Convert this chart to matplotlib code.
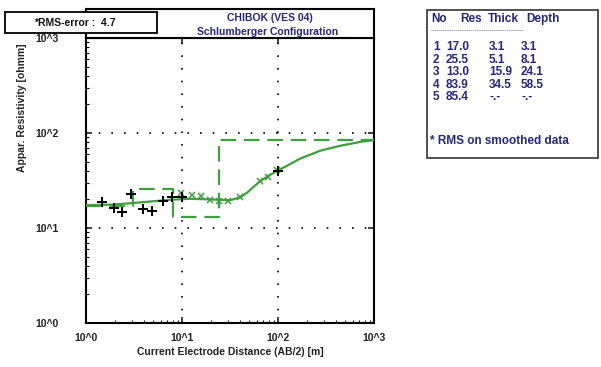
import numpy as np
import matplotlib
matplotlib.use("Agg")
import matplotlib.pyplot as plt
import matplotlib.ticker as ticker
from matplotlib.patches import Rectangle

FONT = "Liberation Sans"
NAVY = "#26267a"
GREEN = "#3f9f3f"

# field readings (AB/2 in m, apparent resistivity in ohmm)
field_ab2 = [1.47, 1.96, 2.37, 2.94, 3.92, 4.87, 6.34, 7.87, 10.0, 100.0]
field_rho = [18.7, 16.2, 14.7, 22.6, 15.8, 15.0, 19.1, 21.0, 21.0, 40.2]

# smoothed readings
smooth_ab2 = [9.8, 12.7, 15.8, 19.6, 24.3, 30.1, 40.2, 64.9, 78.7, 97.7]
smooth_rho = [23.2, 22.1, 21.5, 19.6, 19.1, 19.1, 21.0, 31.6, 34.7, 41.0]

# model response
curve_ab2 = [1.0, 1.78, 2.87, 4.64, 7.5, 12.1, 19.6, 31.6, 40.2, 47.5, 64.9,
             80.0, 100.0, 130.0, 169.0, 274.0, 442.0, 715.0, 1000.0]
curve_rho = [17.4, 17.6, 18.2, 19.0, 19.8, 20.3, 20.0, 19.6, 21.0, 23.5, 31.0,
             35.6, 40.2, 46.4, 53.6, 65.0, 73.3, 80.5, 84.5]

# layered model
layer_no = [1, 2, 3, 4, 5]
layer_res = [17.0, 25.5, 13.0, 83.9, 85.4]
layer_thick = [3.1, 5.1, 15.9, 34.5, None]
layer_depth = [3.1, 8.1, 24.1, 58.5, None]
rms_error = 4.7

W, H = 601, 367
def fx(px):
    return px / W
def fy(py):
    return 1 - py / H

fig = plt.figure(figsize=(W / 100, H / 100), dpi=100)
fig.patch.set_facecolor("white")

ax = fig.add_axes([fx(86), fy(323), (374 - 86) / W, (323 - 38) / H])
ax.set_xscale("log")
ax.set_yscale("log")
ax.set_xlim(1, 1000)
ax.set_ylim(1, 1000)

# step model from the table
edges = [1.0] + [d for d in layer_depth if d is not None] + [1000.0]
ax.step(edges, layer_res + [layer_res[-1]], where="post", color=GREEN,
        lw=1.6, ls=(0, (7, 3.5)), zorder=3)
ax.plot(curve_ab2, curve_rho, color=GREEN, lw=1.6, zorder=4)
ax.plot(smooth_ab2, smooth_rho, ls="none", marker="x", ms=4.5, mew=1.1,
        color=GREEN, zorder=5)
ax.plot(field_ab2, field_rho, ls="none", marker="+", ms=7, mew=1.4,
        color="black", zorder=6)

ax.grid(which="major", color="black", lw=1.2, ls=(0, (1, 6.6)))
dec = [1, 10, 100, 1000]
labels = ["10^0", "10^1", "10^2", "10^3"]
ax.xaxis.set_major_locator(ticker.FixedLocator(dec))
ax.yaxis.set_major_locator(ticker.FixedLocator(dec))
ax.xaxis.set_major_formatter(ticker.FixedFormatter(labels))
ax.yaxis.set_major_formatter(ticker.FixedFormatter(labels))
ax.xaxis.set_minor_locator(ticker.LogLocator(subs=np.arange(2, 10)))
ax.yaxis.set_minor_locator(ticker.LogLocator(subs=np.arange(2, 10)))
ax.xaxis.set_minor_formatter(ticker.NullFormatter())
ax.yaxis.set_minor_formatter(ticker.NullFormatter())
ax.tick_params(which="major", direction="in", length=4, width=1.2,
               top=True, right=True, labelsize=7.5, colors="#222222")
ax.tick_params(which="minor", direction="in", length=2, width=0.8,
               top=False, right=False)
ax.tick_params(axis="y", pad=20)
ax.tick_params(axis="x", pad=7)
for lab in ax.get_xticklabels() + ax.get_yticklabels():
    lab.set_fontname(FONT)
    lab.set_fontweight("bold")
for s in ax.spines.values():
    s.set_linewidth(1.5)

ax.set_xlabel("Current Electrode Distance (AB/2) [m]", fontname=FONT,
              fontweight="bold", fontsize=7.5, color="#222222", labelpad=3)
fig.text(fx(22), fy(108), "Appar. Resistivity [ohmm]", rotation=90,
         ha="center", va="center", fontname=FONT, fontweight="bold",
         fontsize=7.5, color="#222222")

# title strip above the plot
hd = fig.add_axes([fx(86), fy(38), (374 - 86) / W, (38 - 9) / H])
hd.set_xticks([])
hd.set_yticks([])
for s in hd.spines.values():
    s.set_linewidth(1.5)
hd.text(0.64, 0.68, "CHIBOK (VES 04)", transform=hd.transAxes, ha="center",
        va="center", fontname=FONT, fontweight="bold", fontsize=7.5, color=NAVY)
hd.text(0.63, 0.2, "Schlumberger Configuration", transform=hd.transAxes,
        ha="center", va="center", fontname=FONT, fontweight="bold",
        fontsize=7.5, color=NAVY)

# RMS box
fig.add_artist(Rectangle((fx(5), fy(33)), (157 - 5) / W, 21 / H,
                         transform=fig.transFigure, fc="white", ec="black",
                         lw=1.3, zorder=5))
fig.text(fx(34), fy(22.5), f"*RMS-error :  {rms_error}", ha="left",
         va="center", fontname=FONT, fontweight="bold", fontsize=7.5,
         color="#111111", zorder=6)

# layer table
fig.add_artist(Rectangle((fx(427), fy(158)), (598 - 427) / W, 148 / H,
                         transform=fig.transFigure, fc="white", ec="#333333",
                         lw=1.2, zorder=1))
tkw = dict(fontname=FONT, fontweight="bold", fontsize=8.5, color=NAVY,
           va="center", zorder=6)
for x, t in zip([431, 460, 488, 526], ["No", "Res", "Thick", "Depth"]):
    fig.text(fx(x), fy(19), t, **tkw)
fig.text(fx(431), fy(31), "-" * 44, fontname=FONT, fontsize=4.5, color=NAVY,
         va="center")
row_y = [47, 60, 72, 85, 97]
for i in range(len(layer_no)):
    th = "-.-" if layer_thick[i] is None else f"{layer_thick[i]:.1f}"
    dp = "-.-" if layer_depth[i] is None else f"{layer_depth[i]:.1f}"
    vals = [str(layer_no[i]), f"{layer_res[i]:.1f}", th, dp]
    for x, t in zip([433, 446, 489, 521], vals):
        fig.text(fx(x), fy(row_y[i]), t, **tkw)
fig.text(fx(430), fy(141), "* RMS on smoothed data", **tkw)

fig.savefig("out.png", dpi=100)
